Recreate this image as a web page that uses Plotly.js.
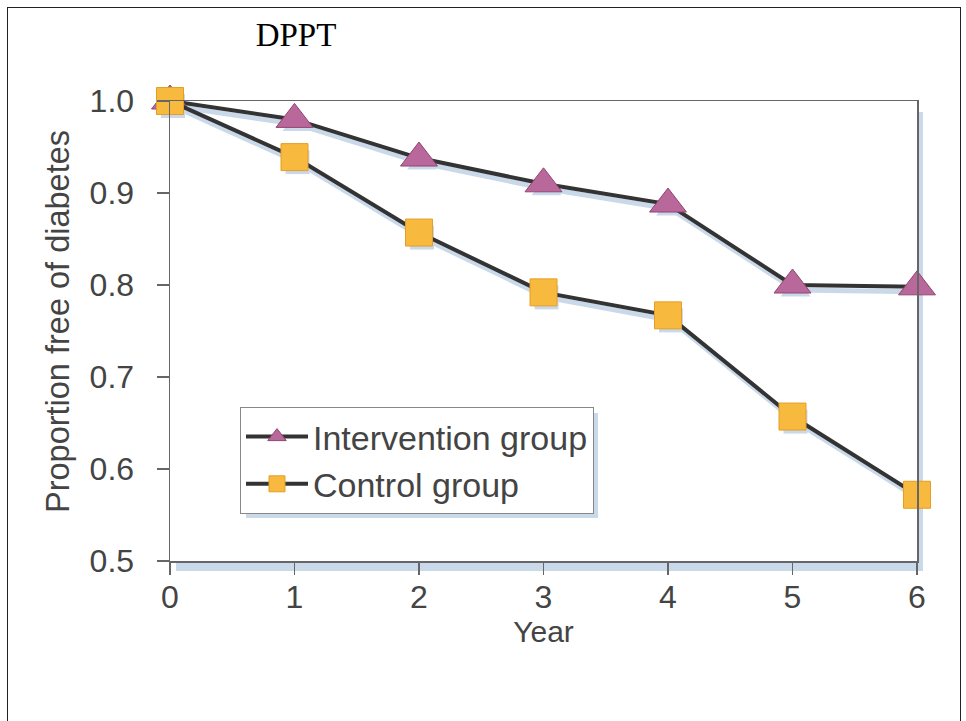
<!DOCTYPE html>
<html>
<head>
<meta charset="utf-8">
<script src="https://cdn.plot.ly/plotly-3.0.1.min.js"></script>
<style>
  html, body { margin: 0; padding: 0; background: #fff; }
  #frame { position: absolute; left: 7px; top: 7px; width: 954px; height: 720px; border: 1.5px solid #222; border-bottom: none; box-sizing: border-box; }
  #chart { position: absolute; left: 0; top: 0; width: 966px; height: 721px; }
</style>
</head>
<body>
<div id="frame"></div>
<div id="chart"></div>
<script>
const years = [0, 1, 2, 3, 4, 5, 6];
const intervention = [1.0, 0.98, 0.938, 0.91, 0.888, 0.80, 0.798];
const control = [1.0, 0.939, 0.857, 0.792, 0.767, 0.657, 0.572];
const seriesNames = ['Intervention group', 'Control group'];
const yTicks = [0.5, 0.6, 0.7, 0.8, 0.9, 1.0];
const chartTitle = 'DPPT';
const xTitle = 'Year';
const yTitle = 'Proportion free of diabetes';

const W = 966, H = 721;
const m = {l: 170, r: 49, t: 101, b: 160};
const pw = W - m.l - m.r, ph = H - m.t - m.b;
const shadowCol = '#c9d9ea';
const sans = 'Liberation Sans, Arial, sans-serif';
// shadow offset (pixels) expressed via a shifted overlay axis range
const sdx = 3 * 6 / pw, sdy = 5 * 0.5 / ph;

const traces = [
  // empty trace so the base subplot (visible axes) exists
  {x: [], y: [], xaxis: 'x', yaxis: 'y', showlegend: false, hoverinfo: 'skip'},
  {x: years, y: intervention, xaxis: 'x2', yaxis: 'y2', mode: 'lines+markers', showlegend: false, hoverinfo: 'skip',
   line: {color: shadowCol, width: 5}, marker: {symbol: 'triangle-up', size: 26, color: shadowCol}, cliponaxis: false},
  {x: years, y: control, xaxis: 'x2', yaxis: 'y2', mode: 'lines+markers', showlegend: false, hoverinfo: 'skip',
   line: {color: shadowCol, width: 5}, marker: {symbol: 'square', size: 24, color: shadowCol}, cliponaxis: false},
  {x: years, y: intervention, name: seriesNames[0], xaxis: 'x3', yaxis: 'y3', mode: 'lines+markers', cliponaxis: false,
   line: {color: '#333333', width: 4},
   marker: {symbol: 'triangle-up', size: 32, color: '#b8689a', line: {color: '#93456f', width: 1}}},
  {x: years, y: control, name: seriesNames[1], xaxis: 'x3', yaxis: 'y3', mode: 'lines+markers', cliponaxis: false,
   line: {color: '#333333', width: 4},
   marker: {symbol: 'square', size: 27, color: '#f7b93e', line: {color: '#e59e25', width: 1}}}
];

const tickFont = {family: sans, size: 32, color: '#444'};

const layout = {
  width: W, height: H,
  margin: m,
  paper_bgcolor: 'rgba(0,0,0,0)',
  plot_bgcolor: '#fff',
  showlegend: true,
  title: {text: chartTitle, font: {family: 'Liberation Serif, Times New Roman, serif', size: 33, color: '#000'},
          xref: 'container', yref: 'container', x: 296 / W, xanchor: 'center', y: 1 - 34 / H, yanchor: 'middle'},
  xaxis: {range: [0, 6], tickvals: years, ticktext: years.map(String), showgrid: false, zeroline: false,
          showline: true, linecolor: '#666', linewidth: 1.5, mirror: true,
          ticks: 'outside', ticklen: 12, tickcolor: '#666', tickwidth: 1.5, ticklabelstandoff: -5,
          tickfont: tickFont,
          title: {text: xTitle, font: {family: sans, size: 30, color: '#444'}, standoff: 2}},
  yaxis: {range: [0.5, 1.0], tickvals: yTicks, ticktext: yTicks.map(v => v.toFixed(1)), showgrid: false, zeroline: false,
          showline: true, linecolor: '#666', linewidth: 1.5, mirror: true,
          ticks: 'outside', ticklen: 12, tickcolor: '#666', tickwidth: 1.5, ticklabelstandoff: 16,
          tickfont: tickFont},
  xaxis2: {range: [0 - sdx, 6 - sdx], overlaying: 'x', visible: false},
  yaxis2: {range: [0.5 + sdy, 1.0 + sdy], overlaying: 'y', visible: false},
  xaxis3: {range: [0, 6], overlaying: 'x', visible: false},
  yaxis3: {range: [0.5, 1.0], overlaying: 'y', visible: false},
  legend: {x: (240 - m.l) / pw, y: (H - m.b - 407) / ph, xanchor: 'left', yanchor: 'top',
           bgcolor: '#fff', bordercolor: '#888', borderwidth: 1,
           font: {family: sans, size: 34, color: '#444'},
           tracegroupgap: 0, itemwidth: 62},
  annotations: [
    {text: yTitle, xref: 'paper', yref: 'paper', x: (58 - m.l) / pw, y: (H - m.b - 322) / ph,
     xanchor: 'center', yanchor: 'middle', textangle: -90, showarrow: false,
     font: {family: sans, size: 32.5, color: '#444'}}
  ],
  shapes: [
    // right and bottom plot shadows
    {type: 'rect', xref: 'paper', yref: 'paper', layer: 'below',
     x0: 1 + 1.5 / pw, x1: 1 + 6 / pw, y0: -10 / ph, y1: 1 - 11 / ph, fillcolor: shadowCol, line: {width: 0}},
    {type: 'rect', xref: 'paper', yref: 'paper', layer: 'below',
     x0: 6 / pw, x1: 1 + 6 / pw, y0: -10 / ph, y1: -1.5 / ph, fillcolor: shadowCol, line: {width: 0}},
    // legend shadow
    {type: 'rect', xref: 'paper', yref: 'paper', layer: 'above',
     x0: (246 - m.l) / pw, x1: (598 - m.l) / pw, y0: (H - m.b - 518) / ph, y1: (H - m.b - 413) / ph,
     fillcolor: shadowCol, line: {width: 0}}
  ]
};

Plotly.newPlot('chart', traces, layout, {displayModeBar: false, staticPlot: true});
</script>
</body>
</html>
